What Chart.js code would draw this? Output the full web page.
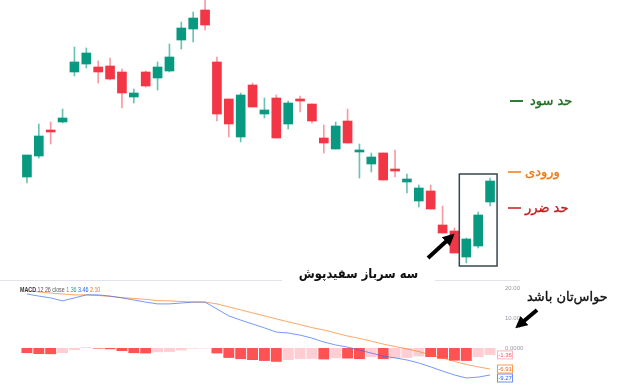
<!DOCTYPE html>
<html>
<head>
<meta charset="utf-8">
<script src="https://cdn.jsdelivr.net/npm/chart.js@4.4.0/dist/chart.umd.min.js"></script>
<style>
  body { margin: 0; background: #fff; width: 624px; height: 387px; overflow: hidden; position: relative; font-family: "DejaVu Sans", sans-serif; }
  #priceChart { position: absolute; left: 0; top: 0; }
  #macdChart { position: absolute; left: 0; top: 281px; }
  .sep { position: absolute; left: 0; top: 280px; width: 520px; height: 1px; background: #e0e3eb; }
  .note { position: absolute; direction: rtl; white-space: nowrap; font-size: 13px; line-height: 14px; -webkit-text-stroke: 0.35px currentColor; }
  .dash { position: absolute; width: 13px; height: 1.5px; }
  .legend { position: absolute; left: 20px; top: 286px; font: 6.5px "Liberation Sans", sans-serif; color: #555; white-space: nowrap; transform: scaleX(0.82); transform-origin: 0 0; }
  .titlebg { position: absolute; left: 282px; top: 262px; width: 153px; height: 22px; background: #fff; }
  .title { position: absolute; left: 282px; top: 262px; width: 153px; height: 22px; text-align: center; direction: rtl; font-weight: bold; font-size: 13.5px; line-height: 22px; color: #111; transform: scaleX(0.86); }
</style>
</head>
<body>
<canvas id="priceChart" width="624" height="270"></canvas>
<div class="sep"></div>
<canvas id="macdChart" width="624" height="106"></canvas>

<div class="legend"><b style="color:#333">MACD</b> 12 26 close <span style="color:#22ab94">1.36</span> <span style="color:#2962ff">3.46</span> <span style="color:#ff6d00">2.10</span></div>

<div class="dash" style="left:510px;top:100px;background:#2e7d32"></div>
<div class="note" style="left:530px;top:94px;color:#1e6f1e">حد سود</div>
<div class="dash" style="left:508px;top:171px;background:#f59a4a"></div>
<div class="note" style="left:525px;top:165px;color:#ef7a12">ورودی</div>
<div class="dash" style="left:508px;top:207px;background:#d9534f"></div>
<div class="note" style="left:525px;top:201px;color:#c01818">حد ضرر</div>
<div class="titlebg"></div>
<div class="title">سه سرباز سفیدپوش</div>
<div class="note" style="left:527px;top:290px;color:#111">حواس‌تان باشد</div>

<svg width="624" height="387" style="position:absolute;left:0;top:0;pointer-events:none">
  <defs>
    <marker id="ah" viewBox="0 0 10 10" refX="7" refY="5" markerWidth="12" markerHeight="12" markerUnits="userSpaceOnUse" orient="auto">
      <path d="M0,0 L10,5 L0,10 z" fill="#000"/>
    </marker>
  </defs>
  <line x1="428" y1="258" x2="452" y2="236" stroke="#000" stroke-width="4" marker-end="url(#ah)"/>
  <line x1="537" y1="310" x2="518" y2="326" stroke="#000" stroke-width="4" marker-end="url(#ah)"/>
</svg>

<script>
// Candles (price units)
const candleOpen  = [123,144,170,178,228,236,233,234,228,203,228,222,229,260,271,290,238,201,163,215,186,202,176,201,196,162,151,179,148,136,147,131,118,99,109,75,69,43,54,98];
const candleHigh  = [145,176,178,191,253,252,239,242,231,211,229,238,256,278,288,302,243,201,207,217,202,205,199,204,196,175,178,191,156,147,147,150,126,115,115,94,72,62,88,122];
const candleLow   = [117,142,156,177,224,232,217,220,192,197,213,210,228,251,258,270,179,163,158,193,182,162,171,188,177,147,151,157,122,128,120,123,107,93,91,67,47,37,52,94];
const candleClose = [145,164,168,182,238,247,228,221,207,207,214,233,243,272,282,275,186,176,205,193,190,162,197,199,179,157,174,157,150,143,120,129,121,112,91,67,47,61,85,119];

// MACD panel
const macdHist   = [-1.7,-2,-2.05,-1.7,-0.7,0.2,-0.2,-0.4,-1,-1.7,-1.8,-1.4,-1.3,-0.8,-0.2,-0.15,-1.8,-3.3,-3.7,-4,-4.3,-4.6,-4,-3.7,-3.6,-3.8,-3.4,-3.5,-3.7,-3,-3.7,-3.4,-3.3,-2.8,-3,-3.6,-4.2,-4.3,-3,-2.3];
const macdLine   = [18,17.3,16.7,15.7,16.7,17.7,17.7,17.3,16.7,16,15.3,14.7,14.7,15,15.3,15.3,13,10.7,9.3,8,6.7,5.3,5,4.3,3.3,2,1,0.3,-0.7,-1.7,-2.7,-3.3,-4,-5,-6.3,-7.7,-9,-10,-9.7,-9];
const signalLine = [19,18.7,18.3,18,17.7,17.7,17.5,17.2,16.8,16.5,16.2,15.8,15.7,15.5,15.3,15.3,14.7,13.7,12.7,11.7,10.7,9.7,8.7,7.8,6.8,6,5,4,3.2,2.3,1.3,0.5,-0.3,-1.2,-2.3,-3.3,-4.5,-5.5,-6.3,-7];
const macdTicks  = [20, 10, 0];
const lastLabels = ['-1.36', '-6.91', '-9.27'];

const labels = candleOpen.map((_, i) => i + 1);
const UP = '#089981', DOWN = '#f23645';
const isUp = i => candleClose[i] >= candleOpen[i];

// box around the last three candles
const boxPlugin = {
  id: 'box',
  afterDraw(chart) {
    const { ctx, scales: { x, y } } = chart;
    const n = labels.length;
    const left = x.getPixelForValue(n - 3) - 7;
    const right = x.getPixelForValue(n - 1) + 7;
    const top = y.getPixelForValue(candleHigh[n - 1]) - 4;
    const bottom = y.getPixelForValue(candleLow[n - 3]) + 3;
    ctx.save();
    ctx.strokeStyle = '#37474f';
    ctx.lineWidth = 1.5;
    ctx.strokeRect(left, top, right - left, bottom - top);
    ctx.restore();
  }
};

const ctx1 = document.getElementById('priceChart').getContext('2d');
new Chart(ctx1, {
  type: 'bar',
  data: {
    labels: labels,
    datasets: [{
      data: labels.map((_, i) => [candleOpen[i], candleClose[i]]),
      backgroundColor: c => isUp(c.dataIndex) ? UP : DOWN,
      barThickness: 9,
      grouped: false
    }, {
      data: labels.map((_, i) => [candleLow[i], candleHigh[i]]),
      backgroundColor: c => isUp(c.dataIndex) ? 'rgba(8,153,129,0.6)' : 'rgba(242,54,69,0.5)',
      barThickness: 1,
      grouped: false
    }]
  },
  options: {
    responsive: false,
    animation: false,
    layout: { padding: { left: 21, right: 128, top: 0, bottom: 0 } },
    plugins: { legend: { display: false }, tooltip: { enabled: false } },
    scales: {
      x: { display: false },
      y: { display: false, min: 30, max: 300 }
    }
  },
  plugins: [boxPlugin]
});

// right-side price labels and last value tags of the MACD panel
const axisPlugin = {
  id: 'macdAxis',
  afterDraw(chart) {
    const { ctx, chartArea, scales: { y } } = chart;
    const n = labels.length;
    ctx.save();
    ctx.font = '6px "Liberation Sans", sans-serif';
    ctx.textBaseline = 'middle';
    ctx.textAlign = 'left';
    ctx.fillStyle = '#9598a1';
    macdTicks.forEach(v => {
      ctx.fillText(v === 0 ? '0.0000' : v.toFixed(2), chartArea.right + 9, y.getPixelForValue(v));
    });

    const vals = [macdHist[n - 1], signalLine[n - 1], macdLine[n - 1]];
    const cols = [['#ffb3bd', '#f7525f'], ['#ff9a4d', '#e8670a'], ['#6f8ff5', '#2962ff']];
    let prev = -99;
    ctx.textAlign = 'center';
    vals.forEach((v, k) => {
      let py = y.getPixelForValue(v);
      if (py < prev + 9) py = prev + 9;
      prev = py;
      const bx = chartArea.right + 1;
      ctx.fillStyle = '#fff';
      ctx.fillRect(bx, py - 4.5, 16, 9);
      ctx.strokeStyle = cols[k][0];
      ctx.lineWidth = 1;
      ctx.strokeRect(bx + 0.5, py - 4, 15, 8);
      ctx.fillStyle = cols[k][1];
      ctx.fillText(lastLabels[k], bx + 8, py + 0.5);
    });
    ctx.restore();
  }
};

const ctx2 = document.getElementById('macdChart').getContext('2d');
new Chart(ctx2, {
  type: 'bar',
  data: {
    labels: labels,
    datasets: [{
      type: 'line',
      data: macdLine,
      borderColor: 'rgba(41,98,255,0.65)',
      borderWidth: 1,
      pointRadius: 0,
      tension: 0
    }, {
      type: 'line',
      data: signalLine,
      borderColor: 'rgba(255,109,0,0.6)',
      borderWidth: 1,
      pointRadius: 0,
      tension: 0
    }, {
      data: macdHist,
      backgroundColor: c => {
        const i = c.dataIndex, v = macdHist[i];
        if (v >= 0) return '#b2dfdb';
        return (i === 0 || v < macdHist[i - 1]) ? '#ff5252' : '#ffcdd2';
      },
      barPercentage: 0.92,
      categoryPercentage: 1
    }]
  },
  options: {
    responsive: false,
    animation: false,
    layout: { padding: { left: 21, right: 128, top: 0, bottom: 0 } },
    plugins: { legend: { display: false }, tooltip: { enabled: false } },
    scales: {
      x: { display: false },
      y: { display: false, min: -13, max: 22.33 }
    }
  },
  plugins: [axisPlugin]
});
</script>
</body>
</html>
